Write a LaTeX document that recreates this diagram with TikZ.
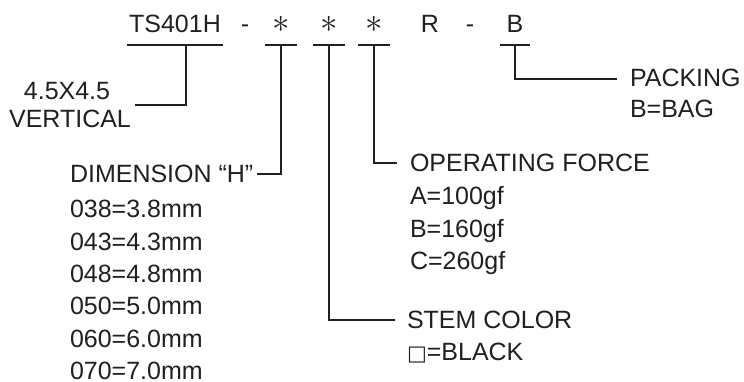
\documentclass[tikz,border=0pt]{standalone}
\usepackage{graphicx}
\usepackage{fontspec}
\setmainfont{Liberation Sans}
\newfontfamily\boxfont{DejaVu Sans}
\usetikzlibrary{positioning}
\definecolor{inkgray}{HTML}{231F20}

\begin{document}
\begin{tikzpicture}[x=1pt, y=-1pt,
    every node/.style={text=inkgray, inner sep=0pt, outer sep=0pt},
    code/.style={anchor=base, font=\fontsize{25}{25}\selectfont, text depth=12pt, minimum width=32pt},
    lbl/.style={anchor=base west, font=\fontsize{25}{25}\selectfont},
    lead/.style={draw=inkgray, line width=1.5pt}]

    \useasboundingbox (0,0) rectangle (744,382);

    % part number
    \node[code, minimum width=96pt] (ts) at (175,33) {TS401H};
    \node[code] (dasha) at (245,33) {-};
    \node[code] (sa) at (281,33) {\scalebox{1.4}{$\ast$}};
    \node[code] (sb) at (329,33) {\scalebox{1.4}{$\ast$}};
    \node[code] (sc) at (374,33) {\scalebox{1.4}{$\ast$}};
    \node[code] (rr) at (430,33) {R};
    \node[code] (dashb) at (470,33) {-};
    \node[code, minimum width=30pt] (bb) at (515,33) {B};

    \draw[lead] (ts.south west) -- (ts.south east);
    \draw[lead] (sa.south west) -- (sa.south east);
    \draw[lead] (sb.south west) -- (sb.south east);
    \draw[lead] (sc.south west) -- (sc.south east);
    \draw[lead] (bb.south west) -- (bb.south east);

    % size
    \node[code, text depth=0pt] (sizea) at (67,100) {4.5X4.5};
    \node[code, text depth=0pt] (sizeb) at (70,128) {VERTICAL};

    % dimension H
    \node[lbl] (dim) at (70,183) {DIMENSION “H”};
    \node[lbl] (dima) at (70,218) {038=3.8mm};
    \node[lbl] (dimb) at (70,250.3) {043=4.3mm};
    \node[lbl] (dimc) at (70,282.6) {048=4.8mm};
    \node[lbl] (dimd) at (70,314.9) {050=5.0mm};
    \node[lbl] (dime) at (70,347.2) {060=6.0mm};
    \node[lbl] (dimf) at (70,379.5) {070=7.0mm};

    % operating force
    \node[lbl] (force) at (410,172) {OPERATING FORCE};
    \node[lbl] (forcea) at (410,205) {A=100gf};
    \node[lbl] (forceb) at (410,237) {B=160gf};
    \node[lbl] (forcec) at (410,269) {C=260gf};

    % stem color
    \node[lbl] (color) at (407,328) {STEM COLOR};
    \node[lbl] (colora) at (407,360) {{\boxfont\fontsize{21}{21}\selectfont □}=BLACK};

    % packing
    \node[lbl] (pack) at (630,87) {PACKING};
    \node[lbl] (packa) at (630,118) {B=BAG};

    \draw[lead] ([xshift=11pt]ts.south) |- ([xshift=4pt,yshift=-5pt]sizeb.east |- sizea.base);
    \draw[lead] (sa.south) |- ([xshift=4pt,yshift=9pt]dim.base east);
    \draw[lead] (sb.south) |- ([xshift=-12pt,yshift=8pt]color.base west);
    \draw[lead] (sc.south) |- ([xshift=-13pt,yshift=9pt]force.base west);
    \draw[lead] (bb.south) |- ([xshift=-13pt,yshift=8pt]pack.base west);

\end{tikzpicture}
\end{document}
